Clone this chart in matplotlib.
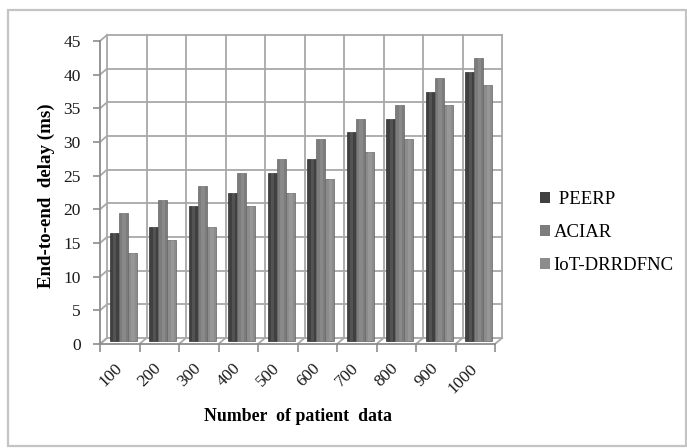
import numpy as np
import matplotlib.pyplot as plt
from matplotlib.patches import Patch, Rectangle

# Delay values per patient-data size
sizes = ['100', '200', '300', '400', '500', '600', '700', '800', '900', '1000']
peerp = [16, 17, 20, 22, 25, 27, 31, 33, 37, 40]
aciar = [19, 21, 23, 25, 27, 30, 33, 35, 39, 42]
iot_drrdfnc = [13, 15, 17, 20, 22, 24, 28, 30, 35, 38]
series_names = [' PEERP', 'ACIAR', 'IoT-DRRDFNC']
series_colors = ['#404040', '#7c7c7c', '#8c8c8c']

W, H = 687, 448
GRID = '#a8a8a8'
AXIS = '#8c8c8c'
plt.rcParams['font.family'] = ['Liberation Serif', 'DejaVu Serif']

# back wall box in pixels (left, bottom from figure bottom, width, height)
BL, BB, BW, BH = 107, 110, 395, 303
DEPTH_X, DEPTH_Y = 7, 6   # shift of the front plane relative to the back wall


def place(frac):
    # axes rectangle shifted towards the viewer by frac of the depth
    return [(BL - DEPTH_X * frac) / W, (BB - DEPTH_Y * frac) / H, BW / W, BH / H]


fig = plt.figure(figsize=(W / 100, H / 100), dpi=100)
fig.patches.append(Rectangle((8 / W, 2 / H), 678 / W, 436 / H, transform=fig.transFigure,
                             fill=False, ec='#c4c4c4', lw=1.6))

n = len(sizes)
ymax = 45
yticks = np.arange(0, ymax + 1, 5)
ddx = DEPTH_X / BW * n
ddy = DEPTH_Y / BH * ymax

# back wall with grid and floor/side connectors
back = fig.add_axes(place(0))
back.set_xlim(0, n)
back.set_ylim(0, ymax)
back.axis('off')
for y in yticks:
    back.plot([0, n], [y, y], color=GRID, lw=1.3, clip_on=False)
    back.plot([0, -ddx], [y, y - ddy], color=GRID, lw=1.3, clip_on=False)
for k in range(n + 1):
    back.plot([k, k], [0, ymax], color=GRID, lw=1.3, clip_on=False)
    back.plot([k, k - ddx], [0, -ddy], color=GRID, lw=1.3, clip_on=False)

# bars sit halfway between the back wall and the front edge
mid = fig.add_axes(place(0.5))
mid.set_xlim(0, n)
mid.set_ylim(0, ymax)
mid.axis('off')
x = np.arange(n) + 0.5
w = 0.23
for j, (vals, color) in enumerate(zip([peerp, aciar, iot_drrdfnc], series_colors)):
    mid.bar(x + (j - 1) * w, vals, width=w, color=color, edgecolor='#2e2e2e' if j == 0 else '#666666',
            lw=0.5, clip_on=False)
    # lighter strip for the rounded column look
    mid.bar(x + (j - 1) * w + w * 0.08, vals, width=w * 0.35, color='white', alpha=0.10, lw=0,
            clip_on=False)

# front plane carries the axes, ticks and labels
front = fig.add_axes(place(1))
front.patch.set_visible(False)
front.set_xlim(0, n)
front.set_ylim(0, ymax)
for side in ['top', 'right']:
    front.spines[side].set_visible(False)
for side in ['left', 'bottom']:
    front.spines[side].set_color(AXIS)
    front.spines[side].set_linewidth(1.3)
front.set_yticks(yticks)
front.tick_params(axis='y', length=5, width=1.2, color=AXIS, pad=9, labelsize=12.5, labelcolor='#1a1a1a')
front.set_xticks(np.arange(n + 1), minor=True)
front.set_xticks(x)
front.set_xticklabels(sizes, rotation=45, ha='right', va='center', rotation_mode='anchor')
front.tick_params(axis='x', which='major', length=0, pad=16, labelsize=12.5, labelcolor='#1a1a1a')
front.tick_params(axis='x', which='minor', length=6, width=1.2, color=AXIS)

front.set_ylabel('End-to-end  delay (ms)', fontsize=13.6, fontweight='bold')
front.yaxis.set_label_coords(-0.114, 0.49)
front.set_xlabel('Number  of patient  data', fontsize=12.8, fontweight='bold')
front.xaxis.set_label_coords(0.5, -0.212)

handles = [Patch(facecolor=c, edgecolor='none') for c in series_colors]
fig.legend(handles, series_names, loc='upper left', bbox_to_anchor=(531 / W, (448 - 182) / H),
           frameon=False, fontsize=13.5, handlelength=0.5, handleheight=0.5, handletextpad=0.2,
           labelspacing=0.85, borderpad=0)

fig.savefig('out.png', dpi=100)
